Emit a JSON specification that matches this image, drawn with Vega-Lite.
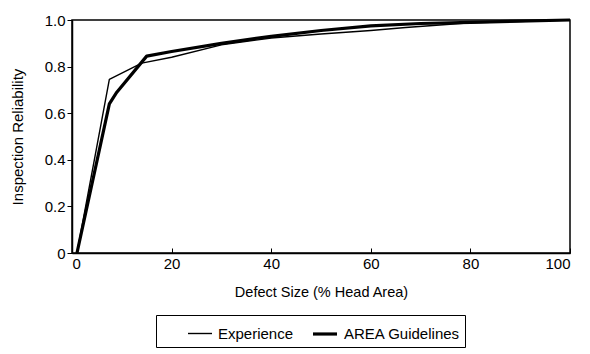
{
  "$schema": "https://vega.github.io/schema/vega-lite/v6.json",
  "width": 498,
  "height": 233,
  "autosize": {"type": "none"},
  "padding": {"left": 72, "top": 20, "right": 20, "bottom": 101},
  "background": "white",
  "config": {
    "font": "Liberation Sans",
    "view": {"stroke": "black", "strokeWidth": 1.5},
    "axis": {"grid": false, "domainColor": "black", "tickColor": "black", "labelColor": "black", "titleColor": "black", "labelFont": "Liberation Sans", "titleFont": "Liberation Sans", "titleFontWeight": "normal"}
  },
  "data": {
    "values": [
      {"series": "Experience", "x": 1, "y": 0},
      {"series": "Experience", "x": 7.5, "y": 0.745},
      {"series": "Experience", "x": 14, "y": 0.815},
      {"series": "Experience", "x": 20, "y": 0.84},
      {"series": "Experience", "x": 30, "y": 0.893},
      {"series": "Experience", "x": 40, "y": 0.923},
      {"series": "Experience", "x": 50, "y": 0.94},
      {"series": "Experience", "x": 60, "y": 0.955},
      {"series": "Experience", "x": 67, "y": 0.968},
      {"series": "Experience", "x": 80, "y": 0.988},
      {"series": "Experience", "x": 100, "y": 1.0},
      {"series": "AREA Guidelines", "x": 1, "y": 0},
      {"series": "AREA Guidelines", "x": 7.5, "y": 0.64},
      {"series": "AREA Guidelines", "x": 9, "y": 0.69},
      {"series": "AREA Guidelines", "x": 15, "y": 0.845},
      {"series": "AREA Guidelines", "x": 20, "y": 0.865},
      {"series": "AREA Guidelines", "x": 30, "y": 0.9},
      {"series": "AREA Guidelines", "x": 40, "y": 0.93},
      {"series": "AREA Guidelines", "x": 50, "y": 0.955},
      {"series": "AREA Guidelines", "x": 60, "y": 0.975},
      {"series": "AREA Guidelines", "x": 70, "y": 0.985},
      {"series": "AREA Guidelines", "x": 80, "y": 0.99},
      {"series": "AREA Guidelines", "x": 100, "y": 1.0}
    ]
  },
  "mark": {"type": "line", "color": "black", "strokeJoin": "round"},
  "encoding": {
    "x": {
      "field": "x", "type": "quantitative",
      "scale": {"domain": [0, 100], "nice": false},
      "axis": {"title": "Defect Size (% Head Area)", "values": [0, 20, 40, 60, 80, 100], "tickSize": -5, "labelFontSize": 15, "titleFontSize": 14.5, "labelPadding": 8, "titlePadding": 14, "domainWidth": 1.5}
    },
    "y": {
      "field": "y", "type": "quantitative",
      "scale": {"domain": [0, 1], "nice": false},
      "axis": {"title": "Inspection Reliability", "values": [0, 0.2, 0.4, 0.6, 0.8, 1.0], "labelExpr": "datum.value == 0 ? '0' : format(datum.value, '.1f')", "tickSize": 5, "labelFontSize": 15, "titleFontSize": 15, "labelPadding": 2, "titlePadding": 19, "domainWidth": 1.5}
    },
    "detail": {"field": "series", "type": "nominal"},
    "strokeWidth": {
      "field": "series", "type": "nominal",
      "scale": {"domain": ["Experience", "AREA Guidelines"], "range": [1.4, 3.2]},
      "legend": {
        "title": " ", "titleOrient": "left", "titlePadding": 26, "titleFontSize": 1,
        "orient": "none", "legendX": 84, "legendY": 295,
        "direction": "horizontal", "symbolType": "stroke", "symbolStrokeColor": "black",
        "symbolSize": 576, "labelFontSize": 15, "labelColor": "black", "labelFont": "Liberation Sans",
        "labelExpr": "datum.label == 'AREA Guidelines' ? datum.label + '     ' : datum.label",
        "strokeColor": "black", "padding": 5, "columnPadding": 12, "labelOffset": 5,
        "symbolOffset": 0
      }
    }
  }
}
